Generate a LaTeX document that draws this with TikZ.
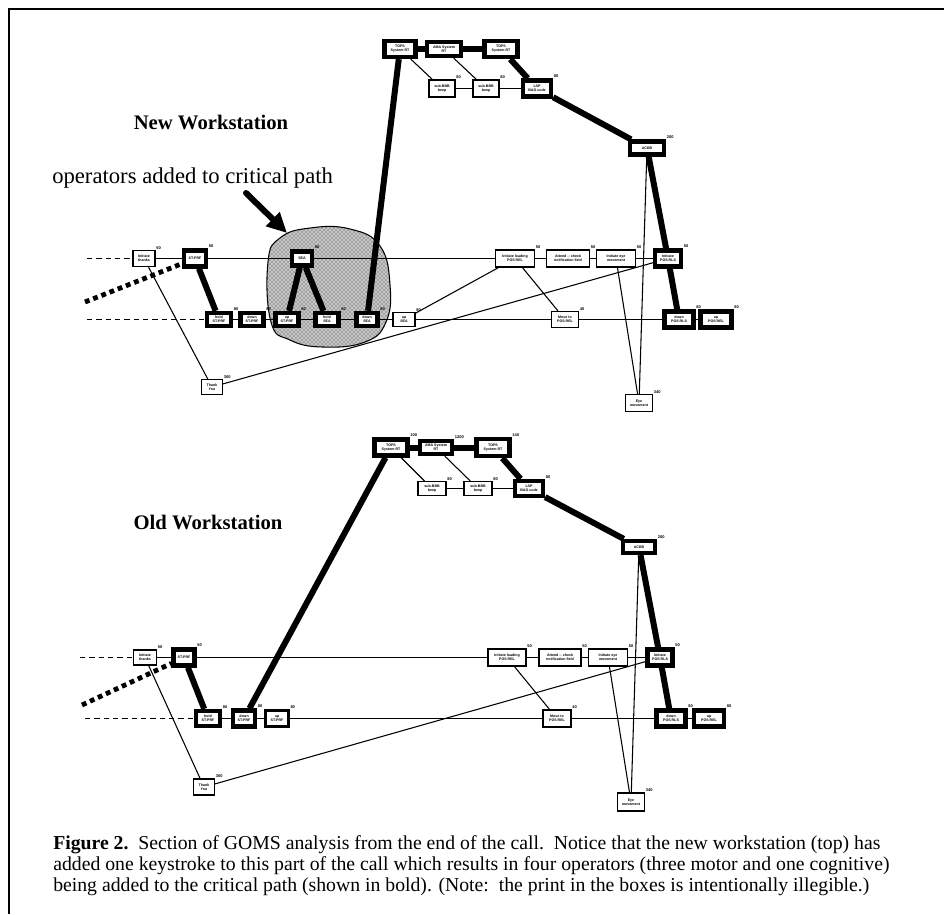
\documentclass[tikz,border=0pt]{standalone}
\usepackage{fontspec}
\setmainfont{Liberation Serif}
\newfontfamily\boxfont{Liberation Sans}
\usetikzlibrary{arrows.meta,patterns,backgrounds}

\begin{document}
\begin{tikzpicture}[
  x=0.75pt,y=-0.75pt,
  sz/.style 2 args={minimum width=#1*0.75pt,minimum height=#2*0.75pt},
  opthin/.style={draw,fill=white,line width=0.9pt,inner sep=0pt,align=center,
    font=\boxfont\bfseries\fontsize{2.7}{3.1}\selectfont},
  opmid/.style={opthin,line width=1.8pt},
  opthick/.style={opthin,line width=3.2pt},
  tm/.style={font=\boxfont\bfseries\fontsize{3}{3.3}\selectfont,inner sep=0.4pt},
  lnk/.style={line width=0.8pt},
  crit/.style={line width=4.5pt},
  lead/.style={line width=0.9pt,dash pattern=on 4pt off 3pt},
  leaddot/.style={line width=3.6pt,dash pattern=on 3.6pt off 3pt},
  ttl/.style={font=\bfseries\fontsize{15.5}{18}\selectfont},
]
\useasboundingbox (0,0) rectangle (944,914);

% ---- frame --------------------------------------------------------------
\coordinate (frTL) at (9,9);
\draw[line width=1.8pt] (944,9) -- (frTL) -- (9,914);

% ---- titles -------------------------------------------------------------
\node[ttl] (tNew) at (211,122) {New Workstation};
\node[ttl] (tOld) at (208,522) {Old Workstation};
\node[font=\fontsize{17}{20}\selectfont,anchor=west,inner sep=0pt] (tOps) at (52,178)
  {operators added to critical path};

% ==== NEW WORKSTATION ====================================================
% upper row
\node[opthin, sz={22}{16},label={[tm]north east:50}] (nIT)  at (144,258.5) {Initiate\\thanks};
\node[opthick,sz={22}{16},label={[tm]north east:50}] (nST)  at (195,258.5) {ST-PRF};
\node[opthick,sz={20}{14},label={[tm]north east:50}] (nSEA) at (302,258.5) {SEA};
\node[opthin, sz={39}{17},label={[tm]north east:50}] (nIL)  at (515,258.5) {Initiate loading\\POS REL};
\node[opthin, sz={43}{17},label={[tm]north east:50}] (nAT)  at (568,258.5) {Attend -- check\\notification field};
\node[opthin, sz={39}{17},label={[tm]north east:50}] (nIE)  at (616,258.5) {Initiate eye\\movement};
\node[opthick,sz={26}{16},label={[tm]north east:50}] (nPR)  at (668,258.5) {Initiate\\POS RLS};
% lower row
\node[opthick,sz={24}{13},label={[tm]north east:80}] (nH1) at (219,319.5) {hold\\ST-PRF};
\node[opthick,sz={23}{13},label={[tm]north east:80}] (nD1) at (252,319.5) {down\\ST-PRF};
\node[opthick,sz={23}{13},label={[tm]north east:80}] (nU1) at (287,319.5) {up\\ST-PRF};
\node[opthick,sz={23}{13},label={[tm]north east:80}] (nH2) at (327,319.5) {hold\\SEA};
\node[opthick,sz={21}{13},label={[tm]north east:80}] (nD2) at (367,319.5) {down\\SEA};
\node[opthin, sz={22}{14},label={[tm]north east:80}] (nU2) at (404,319.5) {up\\SEA};
\node[opthin, sz={27}{16},label={[tm]north east:40}] (nMV) at (565,319.5) {Move to\\POS REL};
\node[opthick,sz={29}{16},label={[tm]north east:80}] (nDP) at (679,319.5) {down\\POS RLS};
\node[opthick,sz={31}{16},label={[tm]north east:80}] (nUP) at (716,319.5) {up\\POS REL};
\node[opthin, sz={21}{15},label={[tm]north east:300}] (nTY) at (212,387) {Thank\\You};
\node[opthin, sz={27}{17},label={[tm]north east:340}] (nEM) at (639,403) {Eye\\movement};
% system group
\node[opthick,sz={31}{16}] (nT1) at (400,49) {TOPS\\System RT};
\node[opthick,sz={34}{14}] (nAM) at (444,49) {AMA System\\RT};
\node[opthick,sz={33}{16}] (nT2) at (501,49) {TOPS\\System RT};
\node[opthin, sz={26}{17},label={[tm]north east:80}] (nS1) at (442,88.5) {sub-BBB\\beep};
\node[opthin, sz={26}{17},label={[tm]north east:80}] (nS2) at (486,88.5) {sub-BBB\\beep};
\node[opthick,sz={28}{16},label={[tm]north east:80}] (nBA) at (537,88.5) {LSP\\BAO code};
\node[opthick,sz={34}{13},label={[tm]north east:200}] (nAC) at (647,148) {ACBB};

% shaded group of added operators
\begin{scope}[on background layer]
\draw[line width=0.8pt,fill=gray!45,postaction={pattern=crosshatch dots,pattern color=black!80}]
  plot[smooth cycle,tension=0.75] coordinates
  {(268,262) (280,238) (310,228) (350,229) (380,246) (390,285) (386,322)
   (365,342) (323,347) (290,340) (271,322)};
\end{scope}

% links
\coordinate (nInA) at (87,258.5);
\coordinate (nInB) at (87,319.5);
\coordinate (nInC) at (85,302);
\draw[lead] (nInA) -- (nIT);
\draw[lead] (nInB) -- (nH1);
\draw[leaddot] (nInC) -- (nST);
\foreach \a/\b in {nIT/nST,nST/nSEA,nSEA/nIL,nIL/nAT,nAT/nIE,nIE/nPR,
    nH1/nD1,nD1/nU1,nU1/nH2,nH2/nD2,nD2/nU2,nU2/nMV,nMV/nDP,nDP/nUP,
    nIT/nTY,nTY/nPR,nU2/nIL,nIL/nMV,nIE/nEM,nAC/nEM,
    nT1/nS1,nAM/nS2,nS1/nS2,nS2/nBA}
  \draw[lnk] (\a) -- (\b);
\foreach \a/\b in {nST/nH1,nSEA/nU1,nSEA/nH2,nT1/nD2,nT1/nAM,nAM/nT2,
    nT2/nBA,nBA/nAC,nAC/nPR,nPR/nDP}
  \draw[crit] (\a) -- (\b);

% pointer to the group
\coordinate (ptFrom) at (246,193);
\coordinate (ptTo) at (287,233);
\draw[line width=4.5pt,line cap=round,-{Triangle[length=15pt,width=14pt]}] (ptFrom) -- (ptTo);

% ==== OLD WORKSTATION ====================================================
% upper row
\node[opthin, sz={23}{15},label={[tm]north east:50}] (oIT) at (145,657.5) {Initiate\\thanks};
\node[opthick,sz={21}{16},label={[tm]north east:50}] (oST) at (184,657.5) {ST-PRF};
\node[opthin, sz={38}{17},label={[tm]north east:50}] (oIL) at (507,657.5) {Initiate loading\\POS REL};
\node[opthin, sz={42}{17},label={[tm]north east:50}] (oAT) at (560,657.5) {Attend -- check\\notification field};
\node[opthin, sz={39}{17},label={[tm]north east:50}] (oIE) at (608,657.5) {Initiate eye\\movement};
\node[opthick,sz={25}{16},label={[tm]north east:50}] (oPR) at (660,657.5) {Initiate\\POS RLS};
% lower row
\node[opthick,sz={24}{15},label={[tm]north east:80}] (oH1) at (208,718.5) {hold\\ST-PRF};
\node[opthick,sz={22}{16},label={[tm]north east:80}] (oD1) at (244,718.5) {down\\ST-PRF};
\node[opmid,  sz={23}{16},label={[tm]north east:80}] (oU1) at (277,718.5) {up\\ST-PRF};
\node[opthin, sz={28}{17},label={[tm]north east:40}] (oMV) at (557,718.5) {Move to\\POS REL};
\node[opthick,sz={29}{16},label={[tm]north east:80}] (oDP) at (671,718.5) {down\\POS RLS};
\node[opthick,sz={30}{16},label={[tm]north east:80}] (oUP) at (709,718.5) {up\\POS REL};
\node[opthin, sz={21}{16},label={[tm]north east:300}] (oTY) at (204,787) {Thank\\You};
\node[opthin, sz={27}{18},label={[tm]north east:340}] (oEM) at (631,802) {Eye\\movement};
% system group
\node[opthick,sz={33}{16},label={[tm]north east:100}] (oT1) at (391,447.5) {TOPS\\System RT};
\node[opthick,sz={32}{13},label={[tm]north east:1200}] (oAM) at (436,447.5) {AMA System\\RT};
\node[opthick,sz={33}{17},label={[tm]north east:140}] (oT2) at (493,447.5) {TOPS\\System RT};
\node[opthin, sz={28}{14},label={[tm]north east:80}] (oS1) at (432,488.5) {sub-BBB\\beep};
\node[opthin, sz={28}{14},label={[tm]north east:80}] (oS2) at (478,488.5) {sub-BBB\\beep};
\node[opthick,sz={28}{15},label={[tm]north east:80}] (oBA) at (529,488.5) {LSP\\BAO code};
\node[opthick,sz={32}{12},label={[tm]north east:200}] (oAC) at (639,547) {ACBB};

% links
\coordinate (oInA) at (80,657.5);
\coordinate (oInB) at (85,718.5);
\coordinate (oInC) at (82,705);
\draw[lead] (oInA) -- (oIT);
\draw[lead] (oInB) -- (oH1);
\draw[leaddot] (oInC) -- (oST);
\foreach \a/\b in {oIT/oST,oST/oIL,oIL/oAT,oAT/oIE,oIE/oPR,
    oH1/oD1,oD1/oU1,oU1/oMV,oMV/oDP,oDP/oUP,
    oIT/oTY,oTY/oPR,oIL/oMV,oIE/oEM,oAC/oEM,
    oT1/oS1,oAM/oS2,oS1/oS2,oS2/oBA}
  \draw[lnk] (\a) -- (\b);
\foreach \a/\b in {oST/oH1,oT1/oD1,oT1/oAM,oAM/oT2,oT2/oBA,oBA/oAC,oAC/oPR,oPR/oDP}
  \draw[crit] (\a) -- (\b);

% ---- caption ------------------------------------------------------------
\node[anchor=north west,align=left,inner sep=0pt,font=\fontsize{14.8}{15.8}\selectfont] (cap) at (53,835)
  {\textbf{Figure 2.}\ \ Section of GOMS analysis from the end of the call.\ \ Notice that the new workstation (top) has\\
   added one keystroke to this part of the call which results in four operators (three motor and one cognitive)\\
   being added to the critical path (shown in bold). (Note:\ \ the print in the boxes is intentionally illegible.)};

\end{tikzpicture}
\end{document}
